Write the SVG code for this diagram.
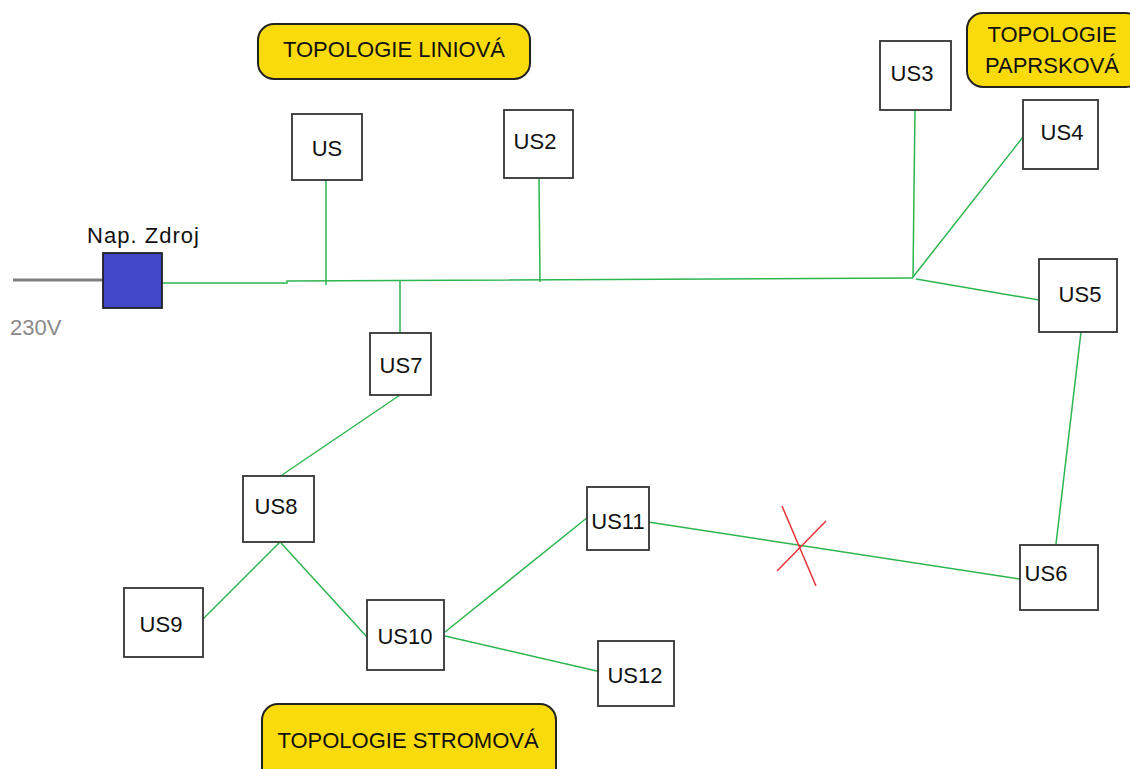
<svg xmlns="http://www.w3.org/2000/svg" width="1130" height="769" viewBox="0 0 1130 769">
<style>
.box{fill:#fff;stroke:#333;stroke-width:1.8}
.lbl{font-family:"Liberation Sans",Arial,sans-serif;font-size:22px;fill:#111}
.tag{fill:#f9da0a;stroke:#222;stroke-width:2}
.w{stroke:#2db54f;stroke-width:1.5;fill:none}
.x{stroke:#e8323a;stroke-width:1.5}
</style>
<rect width="1130" height="769" fill="#fff"/>
<g id="connectors">
<line x1="13" y1="280" x2="105" y2="280" stroke="#808080" stroke-width="3"/>
<polyline class="w" points="162,283 287,283 287,281 913,278"/>
<line class="w" x1="326" y1="180" x2="326" y2="285"/>
<line class="w" x1="539" y1="178" x2="540" y2="282"/>
<line class="w" x1="400" y1="281" x2="400" y2="333"/>
<polyline class="w" points="915,110 914,190 913,278"/>
<line class="w" x1="1023" y1="137" x2="913" y2="277"/>
<line class="w" x1="916" y1="279" x2="1039" y2="300"/>
<line class="w" x1="1081" y1="332" x2="1056" y2="544"/>
<line class="w" x1="648" y1="522" x2="1020" y2="579"/>
<line class="w" x1="400" y1="395" x2="282" y2="475"/>
<line class="w" x1="281" y1="541" x2="203" y2="619"/>
<line class="w" x1="281" y1="543" x2="367" y2="637"/>
<line class="w" x1="445" y1="632" x2="588" y2="517"/>
<line class="w" x1="445" y1="636" x2="601" y2="672"/>
<line class="x" x1="782" y1="506" x2="816" y2="586"/>
<line class="x" x1="777" y1="571" x2="826" y2="521"/>
</g>
<g id="tag-liniova">
<rect class="tag" x="258" y="24" width="272" height="55" rx="16"/>
<text class="lbl" x="394" y="57" text-anchor="middle">TOPOLOGIE LINIOVÁ</text>
</g>
<g id="tag-paprskova">
<rect class="tag" x="967" y="13" width="175" height="74" rx="16"/>
<text class="lbl" x="1052" y="42" text-anchor="middle">TOPOLOGIE</text>
<text class="lbl" x="1052" y="73" text-anchor="middle">PAPRSKOVÁ</text>
</g>
<g id="tag-stromova">
<rect class="tag" x="262" y="704" width="294" height="80" rx="16"/>
<text class="lbl" x="408" y="748" text-anchor="middle">TOPOLOGIE STROMOVÁ</text>
</g>
<g id="zdroj">
<rect x="103" y="253" width="59" height="55" fill="#4047c9" stroke="#222" stroke-width="1.8"/>
<text class="lbl" x="87" y="243" textLength="112">Nap. Zdroj</text>
<text class="lbl" x="10" y="335" style="fill:#8a8a8a">230V</text>
</g>
<g id="US"><rect class="box" x="292" y="114" width="70" height="66"/><text class="lbl" x="327" y="156" text-anchor="middle">US</text></g>
<g id="US2"><rect class="box" x="504" y="110" width="69" height="68"/><text class="lbl" x="535" y="149" text-anchor="middle">US2</text></g>
<g id="US3"><rect class="box" x="880" y="41" width="71" height="69"/><text class="lbl" x="912" y="81" text-anchor="middle">US3</text></g>
<g id="US4"><rect class="box" x="1023" y="100" width="75" height="69"/><text class="lbl" x="1062" y="140" text-anchor="middle">US4</text></g>
<g id="US5"><rect class="box" x="1039" y="259" width="78" height="73"/><text class="lbl" x="1080" y="302" text-anchor="middle">US5</text></g>
<g id="US6"><rect class="box" x="1020" y="545" width="78" height="65"/><text class="lbl" x="1046" y="581" text-anchor="middle">US6</text></g>
<g id="US7"><rect class="box" x="370" y="333" width="61" height="62"/><text class="lbl" x="401" y="373" text-anchor="middle">US7</text></g>
<g id="US8"><rect class="box" x="243" y="476" width="71" height="66"/><text class="lbl" x="276" y="514" text-anchor="middle">US8</text></g>
<g id="US9"><rect class="box" x="124" y="588" width="79" height="69"/><text class="lbl" x="161" y="632" text-anchor="middle">US9</text></g>
<g id="US10"><rect class="box" x="367" y="600" width="77" height="70"/><text class="lbl" x="405" y="644" text-anchor="middle">US10</text></g>
<g id="US11"><rect class="box" x="587" y="487" width="62" height="63"/><text class="lbl" x="618" y="529" text-anchor="middle">US11</text></g>
<g id="US12"><rect class="box" x="598" y="641" width="76" height="65"/><text class="lbl" x="635" y="683" text-anchor="middle">US12</text></g>
</svg>
